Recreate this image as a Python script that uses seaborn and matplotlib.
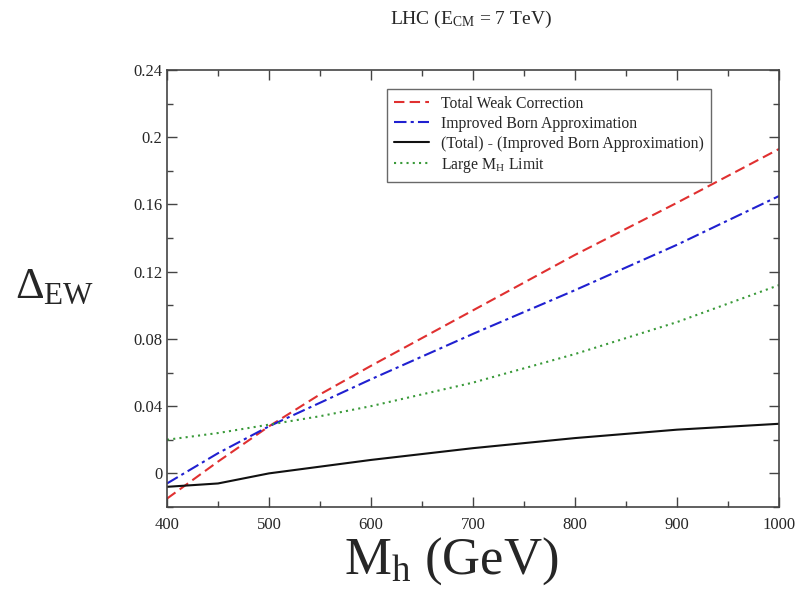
import matplotlib
matplotlib.use("Agg")
import matplotlib.pyplot as plt
from matplotlib.ticker import MultipleLocator
import seaborn as sns
import pandas as pd

mh = [400, 450, 500, 550, 600, 700, 800, 900, 1000]
total_weak = [-0.015, 0.007, 0.028, 0.047, 0.064, 0.097, 0.130, 0.161, 0.193]
improved_born = [-0.006, 0.012, 0.028, 0.042, 0.056, 0.083, 0.109, 0.136, 0.165]
difference = [-0.008, -0.006, 0.000, 0.004, 0.008, 0.015, 0.021, 0.026, 0.0295]
large_mh = [0.020, 0.024, 0.029, 0.034, 0.040, 0.054, 0.071, 0.090, 0.112]

labels = ["Total Weak Correction", "Improved Born Approximation",
          "(Total) - (Improved Born Approximation)", r"Large M$_{\rm H}$ Limit"]
xticks = [400, 500, 600, 700, 800, 900, 1000]
yticks = [0, 0.04, 0.08, 0.12, 0.16, 0.2, 0.24]
yticklabels = ["0", "0.04", "0.08", "0.12", "0.16", "0.2", "0.24"]

sns.set_style("ticks")
plt.rcParams['font.family'] = ['Liberation Serif', 'DejaVu Serif']
plt.rcParams['mathtext.fontset'] = 'custom'
plt.rcParams['mathtext.rm'] = 'Liberation Serif'
plt.rcParams['mathtext.it'] = 'Liberation Serif:italic'

fig = plt.figure(figsize=(7.98, 5.92), dpi=100)
ax = fig.add_axes([0.2093, 0.1436, 0.7669, 0.7382])

series = [
    (total_weak, labels[0], "#e03030", (0, (5, 2.5)), 1.5),
    (improved_born, labels[1], "#2020d0", (0, (6, 2, 1.5, 2)), 1.5),
    (difference, labels[2], "#111111", "-", 1.5),
    (large_mh, labels[3], "#3a9a3a", (0, (1, 2)), 1.5),
]
for vals, lab, col, ls, lw in series:
    df = pd.DataFrame({"x": mh, "y": vals})
    sns.lineplot(data=df, x="x", y="y", ax=ax, color=col, linestyle=ls,
                 linewidth=lw, label=lab)

ax.set_xlim(400, 1000)
ax.set_ylim(-0.02, 0.24)
ax.set_xticks(xticks)
ax.set_xticklabels([str(v) for v in xticks])
ax.set_yticks(yticks)
ax.set_yticklabels(yticklabels)
ax.xaxis.set_minor_locator(MultipleLocator(50))
ax.yaxis.set_minor_locator(MultipleLocator(0.02))
ax.tick_params(which="both", direction="in", top=True, right=True,
               labelsize=12, color="#444444", width=1)
ax.tick_params(which="major", length=7)
ax.tick_params(which="minor", length=4.5)
ax.tick_params(axis="x", pad=7)
for s in ax.spines.values():
    s.set_color("#444444")
    s.set_linewidth(1.2)

ax.set_xlabel("")
ax.set_ylabel("")
fig.text(0.565, 0.052, r"M$_{\rm h}$ (GeV)", fontsize=38, ha="center", va="center")
fig.text(0.068, 0.515, r"$\Delta_{\rm EW}$", fontsize=32, ha="center", va="center")
fig.text(0.59, 0.967, r"LHC (E$_{\rm CM}$ = 7 TeV)", fontsize=14, ha="center", va="center")

leg = ax.legend(loc="upper left", bbox_to_anchor=(0.347, 0.975), fontsize=11.3,
                frameon=True, fancybox=False, edgecolor="#444444",
                handlelength=2.2, borderpad=0.45, labelspacing=0.25)
leg.get_frame().set_linewidth(1.0)

fig.savefig("out.png", dpi=100)
